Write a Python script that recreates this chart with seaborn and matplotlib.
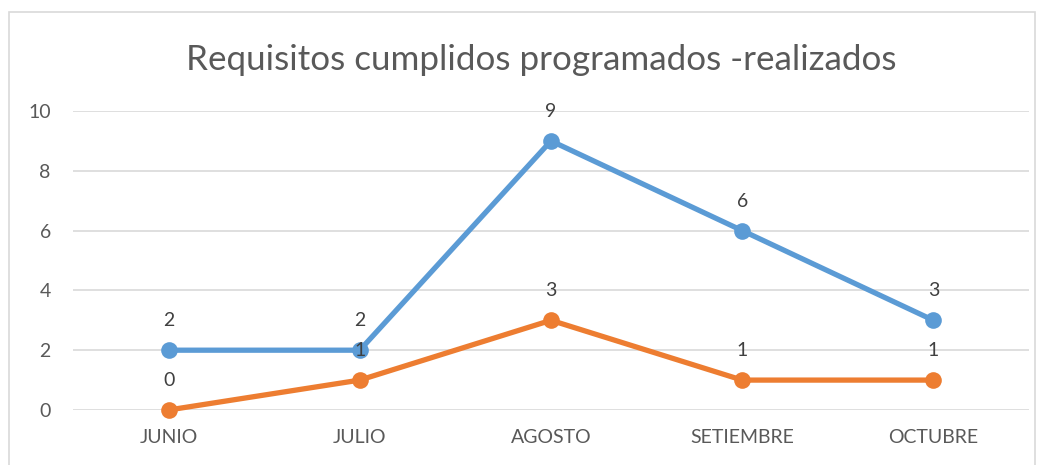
import matplotlib
matplotlib.use("Agg")
import matplotlib.pyplot as plt
import matplotlib.patches as patches
import pandas as pd
import seaborn as sns

# datos del grafico
meses = ["JUNIO", "JULIO", "AGOSTO", "SETIEMBRE", "OCTUBRE"]
programados = [2, 2, 9, 6, 3]
realizados = [0, 1, 3, 1, 1]

AZUL = "#5B9BD5"
NARANJA = "#ED7D31"
TEXTO = "#595959"

sns.set_theme(style="white")
plt.rcParams["font.family"] = ["Lato", "DejaVu Sans"]

df = pd.DataFrame({
    "mes": meses * 2,
    "valor": programados + realizados,
    "serie": ["Programados"] * len(meses) + ["Realizados"] * len(meses),
})

fig = plt.figure(figsize=(10.46, 4.65), dpi=100)
ax = fig.add_axes([0.0698, 0.1183, 0.9139, 0.643])

sns.lineplot(data=df, x="mes", y="valor", hue="serie",
             palette=[AZUL, NARANJA], marker="o", markersize=12,
             markeredgewidth=0, linewidth=3.8, legend=False, ax=ax,
             sort=False, clip_on=False)

# etiquetas de datos
for serie, color in [("Programados", AZUL), ("Realizados", NARANJA)]:
    sub = df[df["serie"] == serie]
    for i, v in enumerate(sub["valor"]):
        ax.annotate(str(v), (i, v), xytext=(0, 15), textcoords="offset points",
                    ha="center", va="bottom", fontsize=14, color="#404040")

ax.set_xlim(-0.5, len(meses) - 0.5)
ax.set_ylim(0, 10)
ax.set_yticks(range(0, 11, 2))
ax.yaxis.grid(True, color="#D9D9D9", linewidth=1.2)
ax.set_axisbelow(True)
for s in ax.spines.values():
    s.set_visible(False)
ax.tick_params(axis="both", length=0, labelsize=14, colors=TEXTO)
ax.tick_params(axis="x", pad=14)
ax.tick_params(axis="y", pad=16)
ax.set_xlabel("")
ax.set_ylabel("")

fig.text(0.517, 0.87, "Requisitos cumplidos programados -realizados",
         ha="center", va="center", fontsize=25.2, color=TEXTO)

# borde del area del grafico
fig.patches.append(patches.Rectangle((9 / 1046, -0.05), 1026 / 1046, 1.05 - 12 / 465,
                                     transform=fig.transFigure, fill=False,
                                     edgecolor="#D9D9D9", linewidth=1.2))

fig.savefig("out.png", dpi=100)
